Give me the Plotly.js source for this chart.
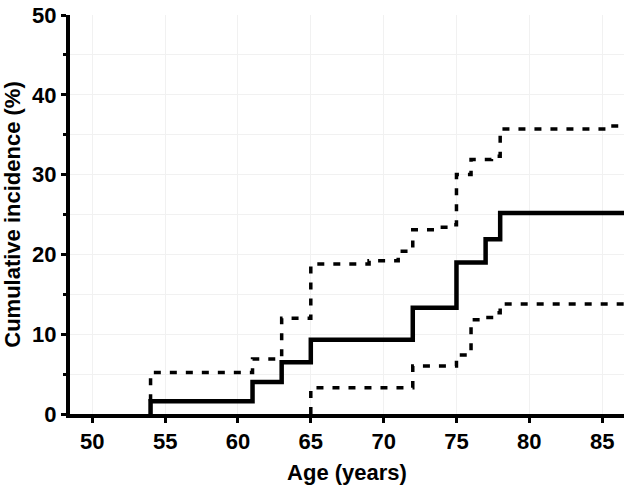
<!DOCTYPE html>
<html>
<head>
<meta charset="utf-8">
<script src="https://cdn.plot.ly/plotly-3.0.1.min.js"></script>
<style>html,body{margin:0;padding:0;background:#fff;}#chart{width:624px;height:488px;}</style>
</head>
<body>
<div id="chart"></div>
<script>
// Cumulative incidence estimate (step function) and 95% confidence band
const estAge   = [54, 54, 61, 63, 65, 72, 75, 77, 78, 87];
const estValue = [0, 1.6, 4.0, 6.5, 9.3, 13.3, 19.0, 21.9, 25.2, 25.2];

const upperAge   = [54, 54, 61, 63, 65, 69, 71, 72, 73.8, 74.6, 75, 76, 77.4, 78, 85.3, 87];
const upperValue = [1.6, 5.2, 6.9, 12.0, 18.8, 19.2, 20.4, 23.1, 23.4, 23.7, 30.0, 31.9, 32.3, 35.7, 36.1, 36.1];

const lowerAge   = [65, 65, 72, 75, 76, 77, 77.6, 78, 87];
const lowerValue = [0, 3.3, 6.0, 7.4, 11.8, 12.1, 12.7, 13.8, 13.8];

const xTicks = [50, 55, 60, 65, 70, 75, 80, 85];
const yTicks = [0, 10, 20, 30, 40, 50];

const font = {family: 'Liberation Sans, Arial, sans-serif', size: 22, color: '#000', weight: 'bold'};
const dashStyle = {color: '#000', width: 3.5, dash: '7px,9px', shape: 'hv'};

const traces = [
  {x: upperAge, y: upperValue, type: 'scatter', mode: 'lines', line: dashStyle, hoverinfo: 'skip'},
  {x: lowerAge, y: lowerValue, type: 'scatter', mode: 'lines', line: dashStyle, hoverinfo: 'skip'},
  {x: estAge, y: estValue, type: 'scatter', mode: 'lines', line: {color: '#000', width: 4.5, shape: 'hv'}, hoverinfo: 'skip'}
];

const layout = {
  width: 624, height: 488,
  margin: {l: 70, r: 0, t: 15, b: 74},
  paper_bgcolor: '#fff', plot_bgcolor: '#fff',
  showlegend: false,
  font: font,
  xaxis: {
    range: [48.47, 86.5],
    tickvals: xTicks, ticktext: xTicks.map(String),
    showgrid: true, gridcolor: '#f1f1f1', gridwidth: 1,
    zeroline: false,
    showline: true, linecolor: '#000', linewidth: 4,
    ticks: 'outside', ticklen: 5, tickwidth: 3, tickcolor: '#000',
    tickfont: font,
    title: {text: 'Age (years)', font: font, standoff: 12}
  },
  yaxis: {
    range: [0, 50],
    tickvals: yTicks, ticktext: yTicks.map(String),
    showgrid: true, gridcolor: '#f1f1f1', gridwidth: 1,
    zeroline: false,
    showline: true, linecolor: '#000', linewidth: 4,
    ticks: 'outside', ticklen: 5, tickwidth: 3, tickcolor: '#000',
    minor: {dtick: 5, tick0: 0, ticks: 'outside', ticklen: 3, tickwidth: 3, tickcolor: '#000', showgrid: true, gridcolor: '#f1f1f1', gridwidth: 1},
    tickfont: font,
    title: {text: 'Cumulative incidence (%)', font: font, standoff: 8}
  }
};

Plotly.newPlot('chart', traces, layout, {displayModeBar: false, staticPlot: true});
</script>
</body>
</html>
